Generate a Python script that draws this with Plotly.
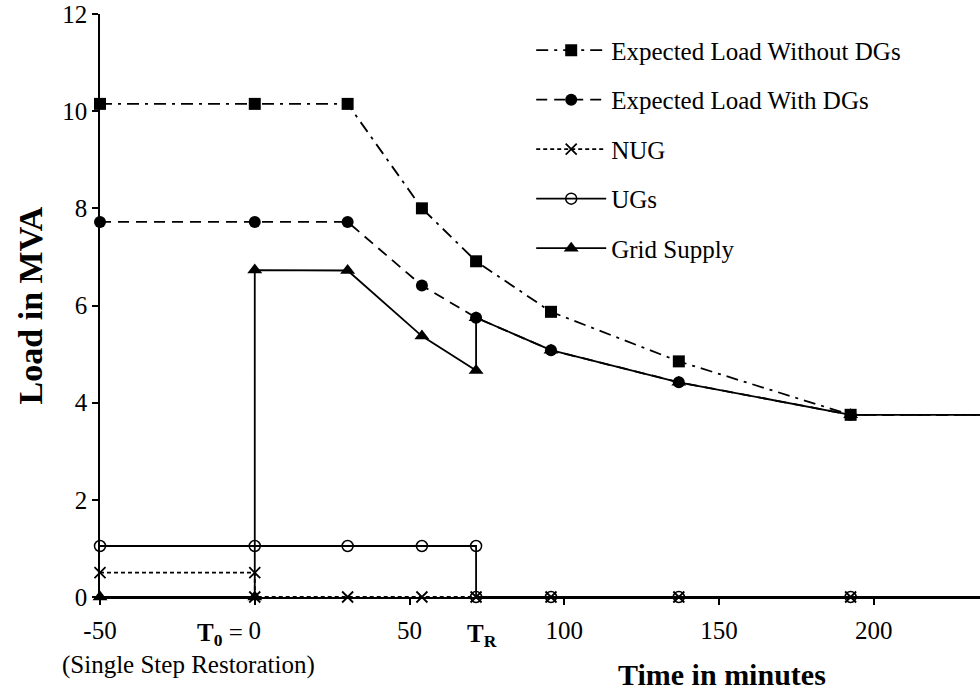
import plotly.graph_objects as go

# Time axis (minutes); T0 = 0 is the fault instant, TR the restoration instant
TR = 71.5
time_load = [-50, 0, 30, 54, TR, 95.7, 137, 192.5, 250]
load_without_dg = [10.15, 10.15, 10.15, 8.0, 6.91, 5.87, 4.85, 3.75, 3.75]
load_with_dg = [7.72, 7.72, 7.72, 6.41, 5.75, 5.08, 4.42, 3.75, 3.75]

time_nug = [-50, 0, 0, 30, 54, TR, 95.7, 137, 192.5, 250]
nug = [0.5, 0.5, 0, 0, 0, 0, 0, 0, 0, 0]

time_ug = [-50, 0, 30, 54, TR, TR, 95.7, 137, 192.5, 250]
ugs = [1.05, 1.05, 1.05, 1.05, 1.05, 0, 0, 0, 0, 0]

time_grid = [-50, 0, 0, 30, 54, TR, TR, 95.7, 137, 192.5, 250]
grid_supply = [0, 0, 6.73, 6.72, 5.37, 4.66, 5.75, 5.08, 4.42, 3.75, 3.75]

x_tick_vals = [-50, 0, 50, 100, 150, 200]
x_tick_text = ["-50", "0", "50", "100", "150", "200"]
y_tick_vals = [0, 2, 4, 6, 8, 10, 12]

FONT = "Liberation Serif, Times New Roman, serif"
BLACK = "black"
FS = 25

series = [
    ("Expected Load Without DGs", time_load, load_without_dg,
     dict(symbol="square", size=12), "12px,6px,3px,6px"),
    ("Expected Load With DGs", time_load, load_with_dg,
     dict(symbol="circle", size=12), "11px,7px"),
    ("NUG", time_nug, nug,
     dict(symbol="x-thin", size=11, line=dict(width=1.8, color=BLACK)), "4px,3px"),
    ("UGs", time_ug, ugs,
     dict(symbol="circle-open", size=11, line=dict(width=1.5, color=BLACK)), "solid"),
    ("Grid Supply", time_grid, grid_supply,
     dict(symbol="triangle-up", size=13), "solid"),
]

fig = go.Figure()
for i, (name, xs, ys, marker, dash) in enumerate(series):
    fig.add_trace(go.Scatter(
        x=xs, y=ys, name=name, mode="lines+markers",
        line=dict(color=BLACK, width=1.8, dash=dash),
        marker=dict(color=BLACK, **marker),
        cliponaxis=False, legendgroup=str(i),
    ))

# special tick labels: "T0 =" in front of the 0 tick, and TR at the restoration time
fig.add_annotation(x=0, y=0, yref="y", xref="x", xanchor="right",
                   text="<b>T<sub>0</sub></b> =", showarrow=False, xshift=-10, yshift=-37,
                   font=dict(family=FONT, size=FS, color=BLACK))
fig.add_annotation(x=TR, y=0, yref="y", xref="x", text="<b>T<sub>R</sub></b>",
                   showarrow=False, xshift=6, yshift=-38, font=dict(family=FONT, size=FS, color=BLACK))
fig.add_annotation(x=0.0, y=0, xref="paper", yref="paper", xanchor="left", yanchor="top",
                   text="(Single Step Restoration)", showarrow=False, xshift=-40, yshift=-52,
                   font=dict(family=FONT, size=FS, color=BLACK))
fig.add_annotation(x=0.707, y=0, xref="paper", yref="paper", xanchor="center", yanchor="top",
                   text="<b>Time in minutes</b>", showarrow=False, yshift=-59,
                   font=dict(family=FONT, size=30, color=BLACK))

fig.update_layout(
    width=980, height=691,
    margin=dict(l=100, r=0, t=14, b=94),
    paper_bgcolor="white", plot_bgcolor="white",
    font=dict(family=FONT, size=FS, color=BLACK),
    showlegend=True,
    legend=dict(x=0.490, y=0.977, xanchor="left", yanchor="top",
                font=dict(family=FONT, size=FS, color=BLACK),
                bgcolor="rgba(0,0,0,0)", traceorder="grouped", tracegroupgap=14,
                itemwidth=70),
    xaxis=dict(range=[-50, 234.3], tickvals=x_tick_vals, ticktext=x_tick_text,
               showgrid=False, zeroline=False, showline=True, linecolor=BLACK, linewidth=1.5,
               ticks="outside", ticklen=6, tickwidth=1.5, tickcolor=BLACK, ticklabelstandoff=4,
               tickfont=dict(family=FONT, size=FS, color=BLACK)),
    yaxis=dict(range=[0, 12], tickvals=y_tick_vals,
               showgrid=False, zeroline=False, showline=True, linecolor=BLACK, linewidth=1.5,
               ticks="outside", ticklen=6, tickwidth=1.5, tickcolor=BLACK,
               tickfont=dict(family=FONT, size=FS, color=BLACK),
               title=dict(text="<b>Load in MVA</b>", standoff=9,
                          font=dict(family=FONT, size=34, color=BLACK))),
)

fig.write_html("out.html")
